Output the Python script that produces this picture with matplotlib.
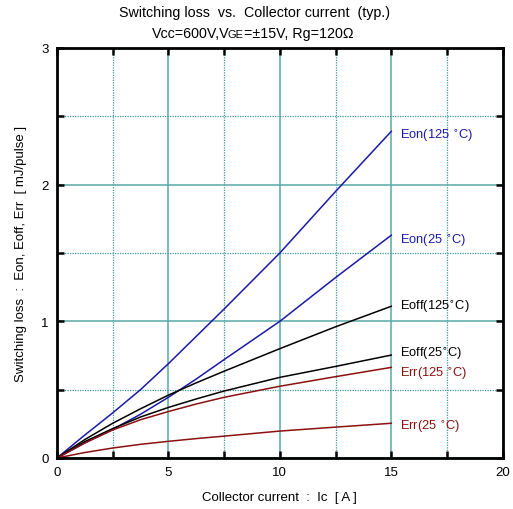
import matplotlib
matplotlib.use("Agg")
import matplotlib.pyplot as plt
from matplotlib.ticker import MultipleLocator

plt.rcParams["font.family"] = ["Liberation Sans", "DejaVu Sans"]

# collector current [A]
ic = [0, 1.25, 2.5, 3.75, 5, 6.25, 7.5, 10, 12.5, 15]

# switching loss [mJ/pulse]
eon_125 = [0, 0.168, 0.33, 0.50, 0.69, 0.89, 1.09, 1.50, 1.95, 2.39]
eon_25 = [0, 0.11, 0.21, 0.32, 0.444, 0.578, 0.72, 1.00, 1.32, 1.63]
eoff_125 = [0, 0.135, 0.254, 0.36, 0.46, 0.55, 0.635, 0.80, 0.96, 1.11]
eoff_25 = [0, 0.12, 0.215, 0.30, 0.37, 0.432, 0.49, 0.59, 0.67, 0.753]
err_125 = [0, 0.11, 0.205, 0.28, 0.34, 0.395, 0.444, 0.525, 0.595, 0.663]
err_25 = [0, 0.04, 0.073, 0.10, 0.122, 0.142, 0.16, 0.197, 0.226, 0.254]

labels = ["Eon(125 $^{\\circ}$C)", "Eon(25 $^{\\circ}$C)", "Eoff(125$^{\\circ}$C)",
          "Eoff(25$^{\\circ}$C)", "Err(125 $^{\\circ}$C)", "Err(25 $^{\\circ}$C)"]
label_y = [2.36, 1.595, 1.11, 0.77, 0.62, 0.235]

blue = "#1a1aa8"
red = "#8b1010"
series = [(eon_125, blue), (eon_25, blue), (eoff_125, "black"),
          (eoff_25, "black"), (err_125, red), (err_25, red)]

fig = plt.figure(figsize=(5.13, 5.10), dpi=100)
ax = fig.add_axes([0.111, 0.1, 0.869, 0.804])

for (vals, col), lab, ly in zip(series, labels, label_y):
    ax.plot(ic, vals, color=col, lw=1.1)
    ax.text(15.4, ly, lab, color=col, fontsize=9.3, va="center", ha="left")

ax.set_xlim(0, 20)
ax.set_ylim(0, 3)
ax.xaxis.set_major_locator(MultipleLocator(5))
ax.xaxis.set_minor_locator(MultipleLocator(2.5))
ax.yaxis.set_major_locator(MultipleLocator(1))
ax.yaxis.set_minor_locator(MultipleLocator(0.5))

ax.grid(which="major", color="#5aa8a8", lw=1.1, ls="-")
ax.grid(which="minor", color="#3f9a9a", lw=0.9, ls=(0, (1, 1)))
ax.set_axisbelow(True)

for s in ax.spines.values():
    s.set_linewidth(2)
ax.tick_params(which="both", direction="in", top=True, right=True,
               length=5, width=1.8, labelsize=9.5, pad=6)

ax.set_xlabel("Collector current  :  Ic  [ A ]", fontsize=9.5, labelpad=9)
ax.set_ylabel("Switching loss  :  Eon, Eoff, Err  [ mJ/pulse ]", fontsize=9.5, labelpad=10)

fig.text(0.496, 0.975, "Switching loss  vs.  Collector current  (typ.)",
         ha="center", va="center", fontsize=10.3)

# second title line, "GE" in smaller letters
fig.canvas.draw()
r = fig.canvas.get_renderer()
parts = [("Vcc=600V,V", 10.3), ("GE", 8), ("=\u00b115V, Rg=120\u03a9", 10.3)]
objs = [fig.text(0, 0.925, t, fontsize=fs, va="baseline") for t, fs in parts]
widths = [o.get_window_extent(r).width for o in objs]
widths[0] -= 1.5
x = (0.492 * fig.bbox.width - sum(widths) / 2)
for o, w in zip(objs, widths):
    o.set_x(x / fig.bbox.width)
    x += w

fig.savefig("out.png", dpi=100)
